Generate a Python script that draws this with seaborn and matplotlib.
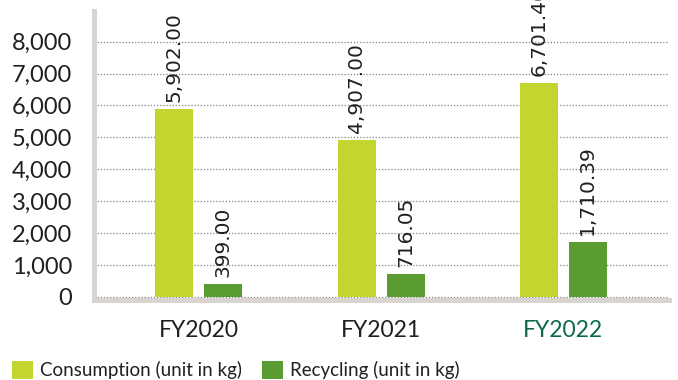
import matplotlib
matplotlib.use("Agg")
import matplotlib.pyplot as plt
import seaborn as sns
import pandas as pd
from matplotlib.ticker import FuncFormatter

# ---- data ----
years = ["FY2020", "FY2021", "FY2022"]
consumption = [5902.00, 4907.00, 6701.40]
recycling = [399.00, 716.05, 1710.39]
series_names = ["Consumption (unit in kg)", "Recycling (unit in kg)"]
y_ticks = [0, 1000, 2000, 3000, 4000, 5000, 6000, 7000, 8000]

df = pd.DataFrame({
    "year": years * 2,
    "value": consumption + recycling,
    "series": [series_names[0]] * 3 + [series_names[1]] * 3,
})

sns.set_style("white")
plt.rcParams["font.family"] = ["Lato", "DejaVu Sans"]

LIME = "#c2d62f"
GREEN = "#5a9c32"
TEXT = "#231f20"
SPINE = "#d9d4d0"

fig = plt.figure(figsize=(6.78, 3.8), dpi=100)
ax = fig.add_axes([94.2 / 678, 1 - 299.5 / 380, (669 - 94.2) / 678, (299.5 - 11) / 380])

sns.barplot(data=df, x="year", y="value", hue="series", hue_order=series_names,
            palette=[LIME, GREEN], width=0.538, gap=0.224, ax=ax, saturation=1,
            linewidth=0, edgecolor="none")

handles, labels = ax.get_legend_handles_labels()
if ax.get_legend() is not None:
    ax.get_legend().remove()

for cont in ax.containers:
    ax.bar_label(cont, labels=[f"{v:,.2f}" for v in cont.datavalues], rotation=90,
                 padding=5, fontsize=14.5, color=TEXT, family="DejaVu Sans")

ax.set_ylim(-81, 8962)
ax.set_xlim(-0.574, 2.58)
ax.set_yticks(y_ticks)
ax.yaxis.set_major_formatter(FuncFormatter(lambda v, p: f"{int(v):,}"))
ax.tick_params(axis="y", length=0, pad=16, labelsize=17, labelcolor=TEXT)
ax.tick_params(axis="x", length=0, pad=15, labelsize=16.5, labelcolor=TEXT)
for lab in ax.get_xticklabels():
    if lab.get_text() == "FY2022":
        lab.set_color("#0b6b45")
ax.set_xlabel("")
ax.set_ylabel("")

ax.yaxis.grid(True, linestyle=(0, (1, 1.5)), color="#808080", linewidth=0.9)
ax.xaxis.grid(False)
ax.set_axisbelow(True)

for side in ["top", "right"]:
    ax.spines[side].set_visible(False)
for side in ["left", "bottom"]:
    ax.spines[side].set_visible(True)
    ax.spines[side].set_color(SPINE)
    ax.spines[side].set_linewidth(3.6)
    ax.spines[side].set_zorder(5)

fig.legend(handles, labels, loc="center left", bbox_to_anchor=(12 / 678, 1 - 370 / 380),
           ncol=2, frameon=False, fontsize=13.5, handlelength=1.12, handleheight=1.12,
           handletextpad=0.37, columnspacing=1.07, borderpad=0, borderaxespad=0,
           labelcolor=TEXT)

fig.savefig("out.png", dpi=100)
